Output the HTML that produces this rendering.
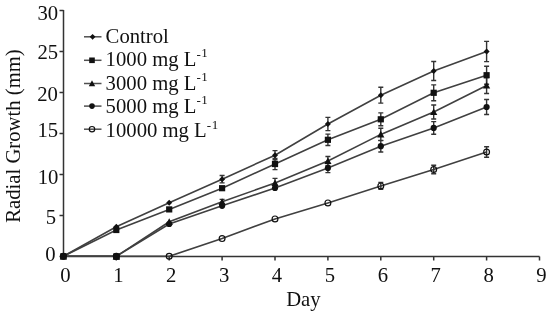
<!DOCTYPE html>
<html><head><meta charset="utf-8"><style>
html,body{margin:0;padding:0;background:#fff;}
body{width:550px;height:312px;overflow:hidden;font-family:"Liberation Serif",serif;}
svg{display:block;}
#w{width:550px;height:312px;will-change:transform;}
</style></head><body>
<div id="w"><svg width="550" height="312" viewBox="0 0 550 312">
<rect width="550" height="312" fill="#fff"/>
<path d="M63.5 10V256.5H539.5M59.5 215.5H63.5M59.5 174.5H63.5M59.5 133.5H63.5M59.5 92.5H63.5M59.5 51.5H63.5M59.5 10.5H63.5M59.5 256.5H63.5M116.3 256.5V260.5M169.2 256.5V260.5M222.1 256.5V260.5M275.0 256.5V260.5M327.9 256.5V260.5M380.8 256.5V260.5M433.7 256.5V260.5M486.6 256.5V260.5M539.5 256.5V260.5" stroke="#333" stroke-width="1.5" fill="none"/>
<path d="M63.4 256.3 L116.3 226.7 L169.2 202.7 L222.1 179.2 L275.0 155.2 L327.9 124.0 L380.8 95.2 L433.7 71.0 L486.6 51.5" stroke="#404040" stroke-width="1.6" fill="none"/>
<path d="M63.4 256.3 L116.3 230.0 L169.2 209.4 L222.1 188.2 L275.0 164.0 L327.9 139.8 L380.8 119.3 L433.7 92.8 L486.6 75.2" stroke="#404040" stroke-width="1.6" fill="none"/>
<path d="M63.4 256.3 L116.3 256.3 L169.2 221.8 L222.1 201.8 L275.0 183.0 L327.9 161.0 L380.8 134.4 L433.7 112.0 L486.6 85.5" stroke="#404040" stroke-width="1.6" fill="none"/>
<path d="M63.4 256.3 L116.3 256.3 L169.2 224.0 L222.1 205.8 L275.0 188.0 L327.9 168.0 L380.8 146.2 L433.7 127.9 L486.6 107.0" stroke="#404040" stroke-width="1.6" fill="none"/>
<path d="M63.4 256.3 L116.3 256.3 L169.2 256.3 L222.1 238.6 L275.0 218.9 L327.9 202.9 L380.8 185.9 L433.7 169.5 L486.6 152.0" stroke="#404040" stroke-width="1.6" fill="none"/>
<path d="M222.1 175.5V182.9M219.6 175.5H224.6M219.6 182.9H224.6M275.0 150.6V159.8M272.5 150.6H277.5M272.5 159.8H277.5M327.9 117.4V130.6M325.4 117.4H330.4M325.4 130.6H330.4M380.8 87.3V103.1M378.3 87.3H383.3M378.3 103.1H383.3M433.7 61.5V80.5M431.2 61.5H436.2M431.2 80.5H436.2M486.6 41.4V61.6M484.1 41.4H489.1M484.1 61.6H489.1" stroke="#333" stroke-width="1.4" fill="none"/>
<path d="M275.0 158.4V169.6M272.5 158.4H277.5M272.5 169.6H277.5M327.9 134.1V145.5M325.4 134.1H330.4M325.4 145.5H330.4M380.8 112.9V125.7M378.3 112.9H383.3M378.3 125.7H383.3M433.7 84.9V100.7M431.2 84.9H436.2M431.2 100.7H436.2M486.6 66.2V84.2M484.1 66.2H489.1M484.1 84.2H489.1" stroke="#333" stroke-width="1.4" fill="none"/>
<path d="M222.1 199.4V204.2M219.6 199.4H224.6M219.6 204.2H224.6M275.0 178.4V187.6M272.5 178.4H277.5M272.5 187.6H277.5M327.9 156.5V165.5M325.4 156.5H330.4M325.4 165.5H330.4M380.8 128.2V140.6M378.3 128.2H383.3M378.3 140.6H383.3M433.7 105.0V119.0M431.2 105.0H436.2M431.2 119.0H436.2M486.6 77.5V93.5M484.1 77.5H489.1M484.1 93.5H489.1" stroke="#333" stroke-width="1.4" fill="none"/>
<path d="M327.9 163.4V172.6M325.4 163.4H330.4M325.4 172.6H330.4M380.8 140.4V152.0M378.3 140.4H383.3M378.3 152.0H383.3M433.7 121.6V134.2M431.2 121.6H436.2M431.2 134.2H436.2M486.6 99.5V114.5M484.1 99.5H489.1M484.1 114.5H489.1" stroke="#333" stroke-width="1.4" fill="none"/>
<path d="M380.8 182.4V189.4M378.3 182.4H383.3M378.3 189.4H383.3M433.7 165.2V173.8M431.2 165.2H436.2M431.2 173.8H436.2M486.6 146.8V157.2M484.1 146.8H489.1M484.1 157.2H489.1" stroke="#333" stroke-width="1.4" fill="none"/>
<circle cx="63.4" cy="256.3" r="2.9" fill="none" stroke="#111" stroke-width="1.2"/>
<circle cx="116.3" cy="256.3" r="2.9" fill="none" stroke="#111" stroke-width="1.2"/>
<circle cx="169.2" cy="256.3" r="2.9" fill="none" stroke="#111" stroke-width="1.2"/>
<circle cx="222.1" cy="238.6" r="2.9" fill="none" stroke="#111" stroke-width="1.2"/>
<circle cx="275.0" cy="218.9" r="2.9" fill="none" stroke="#111" stroke-width="1.2"/>
<circle cx="327.9" cy="202.9" r="2.9" fill="none" stroke="#111" stroke-width="1.2"/>
<circle cx="380.8" cy="185.9" r="2.9" fill="none" stroke="#111" stroke-width="1.2"/>
<circle cx="433.7" cy="169.5" r="2.9" fill="none" stroke="#111" stroke-width="1.2"/>
<circle cx="486.6" cy="152.0" r="2.9" fill="none" stroke="#111" stroke-width="1.2"/>
<circle cx="63.4" cy="256.3" r="3.1" fill="#111"/>
<circle cx="116.3" cy="256.3" r="3.1" fill="#111"/>
<circle cx="169.2" cy="224.0" r="3.1" fill="#111"/>
<circle cx="222.1" cy="205.8" r="3.1" fill="#111"/>
<circle cx="275.0" cy="188.0" r="3.1" fill="#111"/>
<circle cx="327.9" cy="168.0" r="3.1" fill="#111"/>
<circle cx="380.8" cy="146.2" r="3.1" fill="#111"/>
<circle cx="433.7" cy="127.9" r="3.1" fill="#111"/>
<circle cx="486.6" cy="107.0" r="3.1" fill="#111"/>
<path d="M63.4 252.7L67.0 259.4L59.8 259.4Z" fill="#111"/>
<path d="M116.3 252.7L119.9 259.4L112.7 259.4Z" fill="#111"/>
<path d="M169.2 218.2L172.8 224.9L165.6 224.9Z" fill="#111"/>
<path d="M222.1 198.2L225.7 204.9L218.5 204.9Z" fill="#111"/>
<path d="M275.0 179.4L278.6 186.1L271.4 186.1Z" fill="#111"/>
<path d="M327.9 157.4L331.5 164.1L324.3 164.1Z" fill="#111"/>
<path d="M380.8 130.8L384.4 137.5L377.2 137.5Z" fill="#111"/>
<path d="M433.7 108.4L437.3 115.1L430.1 115.1Z" fill="#111"/>
<path d="M486.6 81.9L490.2 88.6L483.0 88.6Z" fill="#111"/>
<rect x="60.3" y="253.2" width="6.2" height="6.2" fill="#111"/>
<rect x="113.2" y="226.9" width="6.2" height="6.2" fill="#111"/>
<rect x="166.1" y="206.3" width="6.2" height="6.2" fill="#111"/>
<rect x="219.0" y="185.1" width="6.2" height="6.2" fill="#111"/>
<rect x="271.9" y="160.9" width="6.2" height="6.2" fill="#111"/>
<rect x="324.8" y="136.7" width="6.2" height="6.2" fill="#111"/>
<rect x="377.7" y="116.2" width="6.2" height="6.2" fill="#111"/>
<rect x="430.6" y="89.7" width="6.2" height="6.2" fill="#111"/>
<rect x="483.5" y="72.1" width="6.2" height="6.2" fill="#111"/>
<path d="M63.4 253.3L66.4 256.3L63.4 259.3L60.4 256.3Z" fill="#111"/>
<path d="M116.3 223.7L119.3 226.7L116.3 229.7L113.3 226.7Z" fill="#111"/>
<path d="M169.2 199.7L172.2 202.7L169.2 205.7L166.2 202.7Z" fill="#111"/>
<path d="M222.1 176.2L225.1 179.2L222.1 182.2L219.1 179.2Z" fill="#111"/>
<path d="M275.0 152.2L278.0 155.2L275.0 158.2L272.0 155.2Z" fill="#111"/>
<path d="M327.9 121.0L330.9 124.0L327.9 127.0L324.9 124.0Z" fill="#111"/>
<path d="M380.8 92.2L383.8 95.2L380.8 98.2L377.8 95.2Z" fill="#111"/>
<path d="M433.7 68.0L436.7 71.0L433.7 74.0L430.7 71.0Z" fill="#111"/>
<path d="M486.6 48.5L489.6 51.5L486.6 54.5L483.6 51.5Z" fill="#111"/>
<rect x="113.3" y="253.4" width="6.4" height="6.4" fill="#111"/>
<text x="58.2" y="19.6" font-size="20.7" text-anchor="end" font-family="Liberation Serif" fill="#111">30</text>
<text x="58.2" y="58.7" font-size="20.7" text-anchor="end" font-family="Liberation Serif" fill="#111">25</text>
<text x="57.9" y="100.9" font-size="20.7" text-anchor="end" font-family="Liberation Serif" fill="#111">20</text>
<text x="58.2" y="136.8" font-size="20.7" text-anchor="end" font-family="Liberation Serif" fill="#111">15</text>
<text x="58.4" y="183.5" font-size="20.7" text-anchor="end" font-family="Liberation Serif" fill="#111">10</text>
<text x="56.1" y="224.2" font-size="20.7" text-anchor="end" font-family="Liberation Serif" fill="#111">5</text>
<text x="55.6" y="261.1" font-size="20.7" text-anchor="end" font-family="Liberation Serif" fill="#111">0</text>
<text x="65.4" y="282" font-size="20.7" text-anchor="middle" font-family="Liberation Serif" fill="#111">0</text>
<text x="118.3" y="282" font-size="20.7" text-anchor="middle" font-family="Liberation Serif" fill="#111">1</text>
<text x="171.2" y="282" font-size="20.7" text-anchor="middle" font-family="Liberation Serif" fill="#111">2</text>
<text x="224.1" y="282" font-size="20.7" text-anchor="middle" font-family="Liberation Serif" fill="#111">3</text>
<text x="277.0" y="282" font-size="20.7" text-anchor="middle" font-family="Liberation Serif" fill="#111">4</text>
<text x="329.9" y="282" font-size="20.7" text-anchor="middle" font-family="Liberation Serif" fill="#111">5</text>
<text x="382.8" y="282" font-size="20.7" text-anchor="middle" font-family="Liberation Serif" fill="#111">6</text>
<text x="435.7" y="282" font-size="20.7" text-anchor="middle" font-family="Liberation Serif" fill="#111">7</text>
<text x="488.6" y="282" font-size="20.7" text-anchor="middle" font-family="Liberation Serif" fill="#111">8</text>
<text x="541.5" y="282" font-size="20.7" text-anchor="middle" font-family="Liberation Serif" fill="#111">9</text>
<text x="303.4" y="305.8" font-size="20.7" text-anchor="middle" font-family="Liberation Serif" fill="#111">Day</text>
<text transform="translate(19.9 136) rotate(-90)" x="0" y="0" font-size="20.7" text-anchor="middle" font-family="Liberation Serif" fill="#111">Radial Growth (mm)</text>
<path d="M84 36.8H101.5" stroke="#505050" stroke-width="1.5"/>
<path d="M92.6 33.9L95.5 36.8L92.6 39.7L89.7 36.8Z" fill="#111"/>
<text x="105.6" y="43.1" font-size="20.7" font-family="Liberation Serif" fill="#111">Control</text>
<path d="M84 60.3H101.5" stroke="#505050" stroke-width="1.5"/>
<rect x="89.2" y="57.5" width="5.6" height="5.6" fill="#111"/>
<text x="105.6" y="66.2" font-size="20.7" font-family="Liberation Serif" fill="#111">1000 mg L<tspan font-size="13" dy="-7.5">-</tspan><tspan font-size="13" dx="0.6" dy="-1.3">1</tspan></text>
<path d="M84 83.5H101.5" stroke="#505050" stroke-width="1.5"/>
<path d="M92.0 80.3L95.2 86.2L88.8 86.2Z" fill="#111"/>
<text x="105.6" y="89.9" font-size="20.7" font-family="Liberation Serif" fill="#111">3000 mg L<tspan font-size="13" dy="-7.5">-</tspan><tspan font-size="13" dx="0.6" dy="-1.3">1</tspan></text>
<path d="M84 106.1H101.5" stroke="#505050" stroke-width="1.5"/>
<circle cx="92.0" cy="106.1" r="2.8" fill="#111"/>
<text x="105.6" y="112.8" font-size="20.7" font-family="Liberation Serif" fill="#111">5000 mg L<tspan font-size="13" dy="-7.5">-</tspan><tspan font-size="13" dx="0.6" dy="-1.3">1</tspan></text>
<path d="M84 129.2H101.5" stroke="#505050" stroke-width="1.5"/>
<circle cx="92.0" cy="129.2" r="2.7" fill="none" stroke="#111" stroke-width="1.2"/>
<text x="105.6" y="137.4" font-size="20.7" font-family="Liberation Serif" fill="#111">10000 mg L<tspan font-size="13" dy="-7.5">-</tspan><tspan font-size="13" dx="0.6" dy="-1.3">1</tspan></text>
</svg></div>
</body></html>
